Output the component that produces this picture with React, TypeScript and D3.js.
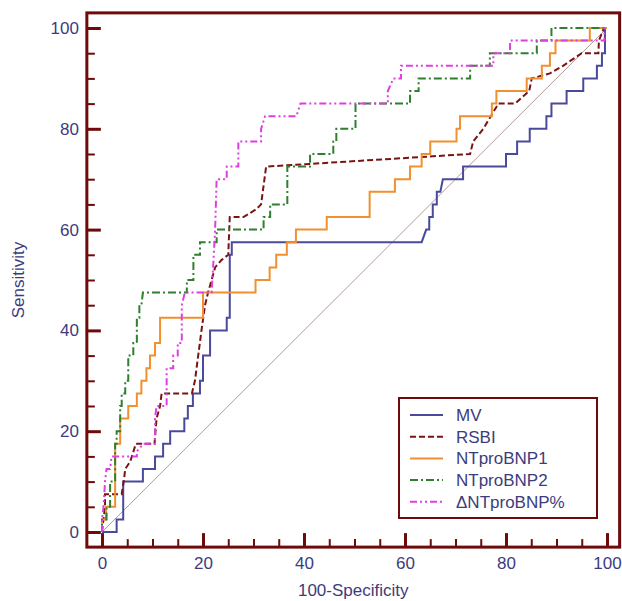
import React, { useEffect, useRef } from "react";
import * as d3 from "d3";

const W = 622;
const H = 601;

// ROC curves: [100-Specificity, Sensitivity] vertices
const mvPoints = [
  [0, 0], [2.9, 0], [2.9, 2.5], [4.2, 2.5], [4.2, 10], [8.1, 10], [8.1, 12.5], [10.5, 12.5],
  [10.5, 15], [12.1, 15], [12.1, 17.5], [13.5, 17.5], [13.5, 20], [16.3, 20], [16.3, 22.5],
  [17, 22.5], [17, 25], [18, 25], [18, 27.5], [19.4, 27.5], [19.4, 30], [20, 30], [20, 35],
  [21.4, 35], [21.4, 40], [24.7, 40], [24.7, 42.5], [25.3, 42.5], [25.3, 55], [25.7, 55],
  [25.7, 57.5], [63.3, 57.5], [64.2, 60], [64.8, 60], [64.8, 62.5], [65.5, 62.5], [65.5, 65],
  [66.3, 65], [66.3, 67.5], [67, 67.5], [67.5, 70], [71.5, 70], [71.5, 72.5], [80, 72.5],
  [80, 75], [82.2, 75], [82.2, 77.5], [84.7, 77.5], [84.7, 80], [88, 80], [88, 82.5],
  [89, 82.5], [89, 85], [92, 85], [92, 87.5], [95.3, 87.5], [95.3, 90], [98, 90], [98, 92.5],
  [99, 92.5], [99, 95], [99.6, 95], [99.6, 100], [100, 100],
];

const rsbiPoints = [
  [0, 0], [0.3, 2.5], [0.6, 5], [0.6, 7.5], [3.9, 7.5], [4.3, 10], [4.6, 12.5], [5.6, 14],
  [6.7, 17.5], [10.4, 17.5], [10.8, 22.5], [11.5, 25], [11.8, 27.5], [17.8, 27.5], [18.4, 30],
  [19.7, 40], [20.4, 45], [21, 47.5], [21.7, 50], [22.4, 52.5], [23.7, 54], [25, 55],
  [25.3, 62.5], [28, 62.5], [30.5, 64], [31.5, 65], [32.5, 72.5], [72.9, 75], [73.5, 77.5],
  [75.5, 80], [78.5, 85], [81.8, 85], [84.6, 87.5], [85.1, 90], [88.7, 91], [91.3, 92.5],
  [95, 95], [98.3, 95], [98.4, 97.5], [99.4, 100], [100, 100],
];

const ntpro1Points = [
  [0, 0], [0, 2.5], [0.8, 2.5], [0.8, 5], [2.6, 5], [2.6, 17.5], [3.6, 17.5], [3.6, 22.5],
  [5.2, 22.5], [5.2, 25], [6.9, 25], [6.9, 27.5], [7.8, 27.5], [7.8, 30], [8.8, 30],
  [8.8, 32.5], [9.5, 32.5], [9.5, 35], [10.5, 35], [10.5, 37.5], [11.5, 37.5], [11.5, 42.5],
  [20, 42.5], [20, 47.5], [30.4, 47.5], [30.4, 50], [33.2, 50], [33.2, 52.5], [34.5, 52.5],
  [34.5, 55], [36.6, 55], [36.6, 57.5], [38.4, 57.5], [38.4, 60], [44.5, 60], [44.5, 62.5],
  [53, 62.5], [53, 67.5], [58, 67.5], [58, 70], [61, 70], [61, 72.5], [63.3, 72.5],
  [63.3, 75], [65, 75], [65, 77.5], [70.2, 77.5], [70.2, 80], [70.9, 80], [70.9, 82.5],
  [77.2, 82.5], [77.2, 85], [78.1, 85], [78.1, 87.5], [84.1, 87.5], [84.1, 90], [87.1, 90],
  [87.1, 92.5], [88.7, 92.5], [88.7, 95], [89.8, 95], [89.8, 97.5], [96.6, 97.5],
  [96.6, 100], [100, 100],
];

const ntpro2Points = [
  [0, 0], [0, 2.5], [0.9, 2.5], [0.9, 5], [1.6, 5], [1.6, 10], [2.6, 10], [2.6, 17.5],
  [2.9, 17.5], [2.9, 20], [3.6, 20], [3.6, 25], [3.9, 25], [3.9, 27.5], [4.6, 27.5],
  [4.6, 30], [5.2, 30], [5.2, 35], [6.2, 35], [6.2, 37.5], [6.9, 37.5], [6.9, 42.5],
  [7.4, 42.5], [7.4, 45], [7.8, 45], [8.1, 47.5], [16.8, 47.5], [16.8, 50], [18.1, 50],
  [18.1, 55], [19.4, 55], [19.4, 57.5], [22.7, 57.5], [22.7, 60], [32, 60], [32, 62.5],
  [33.3, 62.5], [33.3, 65], [36.7, 65], [36.7, 72.5], [41.2, 72.5], [41.2, 75], [45.8, 75],
  [45.8, 77.5], [46.4, 77.5], [46.4, 80], [50.2, 80], [50.2, 85], [61, 85], [61, 87.5],
  [62.7, 87.5], [62.7, 90], [72.9, 90], [72.9, 92.5], [76.8, 92.5], [76.8, 95], [86.1, 95],
  [86.1, 97.5], [89, 97.5], [89, 100], [100, 100],
];

const deltaPoints = [
  [0, 0], [0, 2.5], [0.3, 5], [0.6, 10], [0.9, 12.5], [1.6, 12.5], [1.9, 15], [6.9, 15],
  [6.9, 16], [8.2, 17.5], [10.5, 17.5], [10.5, 22.5], [10.8, 25], [12.8, 25], [12.8, 32.5],
  [14.1, 32.5], [14.1, 35], [15, 35], [15, 37.5], [15.8, 37.5], [15.8, 45], [16.4, 47.5],
  [21.7, 47.5], [22, 52.5], [22.4, 60], [22.7, 70], [24.7, 70], [24.7, 72.5], [27, 72.5],
  [27, 77.5], [31.5, 77.5], [31.5, 80], [32.3, 82.5], [38.5, 82.5], [39.3, 85], [56.6, 85],
  [56.6, 87.5], [57.7, 90], [59.2, 90], [59.2, 92.5], [77.5, 92.5], [77.5, 95], [80.8, 95],
  [80.8, 97.5], [99.5, 97.5], [99.5, 100], [100, 100],
];

const seriesNames = ["MV", "RSBI", "NTproBNP1", "NTproBNP2", "\u0394NTproBNP%"];
const seriesData = [mvPoints, rsbiPoints, ntpro1Points, ntpro2Points, deltaPoints];
const seriesColors = ["#4a4a9c", "#7a1414", "#f0902f", "#2f7f2f", "#de3fde"];
const seriesDash = ["none", "6,3", "none", "8,3,2,3", "7,3,2,3,2,3"];

const majorTicks = [0, 20, 40, 60, 80, 100];
const minorTicks = [5, 10, 15, 25, 30, 35, 45, 50, 55, 65, 70, 75, 85, 90, 95];

const frameColor = "#6e0a0a";
const labelColor = "#3c3c7c";
const font = "'Liberation Sans', Arial, sans-serif";

const App = () => {
  const svgRef = useRef<SVGSVGElement>(null);

  useEffect(() => {
    const svg = d3.select(svgRef.current);
    svg.selectAll("*").remove();

    const x = d3.scaleLinear().domain([0, 100]).range([102, 607]);
    const y = d3.scaleLinear().domain([0, 100]).range([532, 28]);

    const left = x(-3);
    const right = x(102.5);
    const top = y(103);
    const bottom = y(-3);

    svg.append("rect").attr("width", W).attr("height", H).attr("fill", "white");

    // reference diagonal
    svg
      .append("line")
      .attr("x1", x(0))
      .attr("y1", y(0))
      .attr("x2", x(100))
      .attr("y2", y(100))
      .attr("stroke", "#b39a9a")
      .attr("stroke-width", 1);

    const line = d3
      .line<number[]>()
      .x((d) => x(d[0]))
      .y((d) => y(d[1]));

    seriesData.forEach((pts, i) => {
      svg
        .append("path")
        .attr("d", line(pts))
        .attr("fill", "none")
        .attr("stroke", seriesColors[i])
        .attr("stroke-width", 2)
        .attr("stroke-dasharray", seriesDash[i]);
    });

    // frame
    svg
      .append("rect")
      .attr("x", left)
      .attr("y", top)
      .attr("width", right - left)
      .attr("height", bottom - top)
      .attr("fill", "none")
      .attr("stroke", frameColor)
      .attr("stroke-width", 3);

    // y axis
    const gy = svg
      .append("g")
      .attr("transform", `translate(${left},0)`)
      .call(d3.axisLeft(y).tickValues(majorTicks).tickSize(-14).tickPadding(8));
    gy.select(".domain").remove();
    gy.selectAll("line").attr("stroke", frameColor).attr("stroke-width", 3);
    gy.selectAll("text")
      .attr("fill", labelColor)
      .style("font-family", font)
      .style("font-size", "17px");

    const gyMinor = svg
      .append("g")
      .attr("transform", `translate(${left},0)`)
      .call(d3.axisLeft(y).tickValues(minorTicks).tickSize(-8).tickFormat(() => ""));
    gyMinor.select(".domain").remove();
    gyMinor.selectAll("line").attr("stroke", frameColor).attr("stroke-width", 2);

    // x axis
    const gx = svg
      .append("g")
      .attr("transform", `translate(0,${bottom})`)
      .call(d3.axisBottom(x).tickValues(majorTicks).tickSize(-14).tickPadding(10));
    gx.select(".domain").remove();
    gx.selectAll("line").attr("stroke", frameColor).attr("stroke-width", 3);
    gx.selectAll("text")
      .attr("fill", labelColor)
      .style("font-family", font)
      .style("font-size", "17px");

    const gxMinor = svg
      .append("g")
      .attr("transform", `translate(0,${bottom})`)
      .call(d3.axisBottom(x).tickValues(minorTicks).tickSize(-8).tickFormat(() => ""));
    gxMinor.select(".domain").remove();
    gxMinor.selectAll("line").attr("stroke", frameColor).attr("stroke-width", 2);

    // axis titles
    svg
      .append("text")
      .attr("x", (left + right) / 2)
      .attr("y", 596)
      .attr("text-anchor", "middle")
      .attr("fill", labelColor)
      .style("font-family", font)
      .style("font-size", "17px")
      .text("100-Specificity");

    svg
      .append("text")
      .attr("transform", `translate(24,${(top + bottom) / 2}) rotate(-90)`)
      .attr("text-anchor", "middle")
      .attr("fill", labelColor)
      .style("font-family", font)
      .style("font-size", "17px")
      .text("Sensitivity");

    // legend
    const legend = svg.append("g").attr("transform", "translate(399,398)");
    legend
      .append("rect")
      .attr("width", 198)
      .attr("height", 120)
      .attr("fill", "white")
      .attr("stroke", frameColor)
      .attr("stroke-width", 2);

    seriesNames.forEach((name, i) => {
      const cy = 17 + i * 21.7;
      legend
        .append("line")
        .attr("x1", 11)
        .attr("x2", 44)
        .attr("y1", cy)
        .attr("y2", cy)
        .attr("stroke", seriesColors[i])
        .attr("stroke-width", 2)
        .attr("stroke-dasharray", seriesDash[i]);
      legend
        .append("text")
        .attr("x", 57)
        .attr("y", cy)
        .attr("dy", "0.35em")
        .attr("fill", labelColor)
        .style("font-family", font)
        .style("font-size", "17px")
        .text(name);
    });
  }, []);

  return (
    <svg
      ref={svgRef}
      width={W}
      height={H}
      style={{ position: "absolute", left: 0, top: 0 }}
    ></svg>
  );
};

export default App;
